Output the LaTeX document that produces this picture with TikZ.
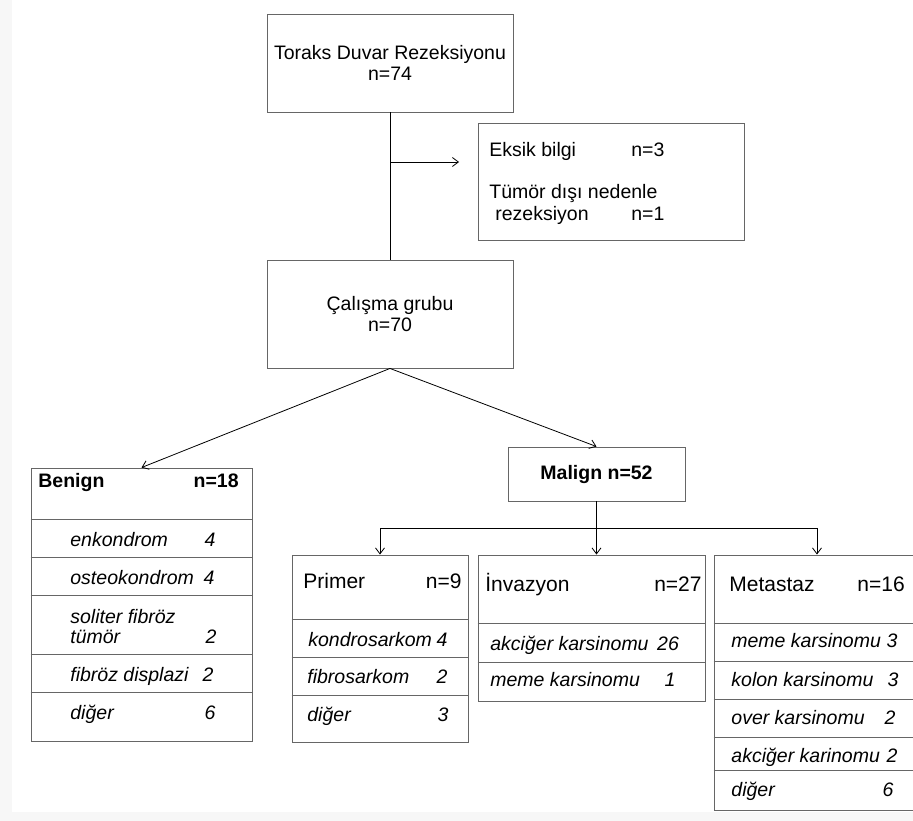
\documentclass[tikz,border=0pt]{standalone}
\usepackage{fontspec}
\setmainfont{Liberation Sans}
\usetikzlibrary{arrows.meta}
\newcommand{\boxfont}{\fontsize{19.5}{21.5}\selectfont}
\newcommand{\headfont}{\fontsize{21}{23}\selectfont}
\tikzset{every picture/.append style={x=1pt, y=-1pt, line width=0.8pt,
    >={Straight Barb[length=6pt,width=9pt]}}}
\tikzset{
    every node/.append style={font=\boxfont},
    box/.style={rectangle, draw=black!60, line width=0.9pt, inner sep=0pt, align=center},
    rowline/.style={draw=black!60, line width=0.9pt},
    txt/.style={anchor=base west, inner sep=0pt},
    head/.style={txt, font=\headfont},
    itm/.style={txt, font=\boxfont\itshape},
    num/.style={anchor=base, inner sep=0pt, font=\boxfont\itshape}
}

\begin{document}
\begin{tikzpicture}
  \useasboundingbox (0,0) rectangle (913,821);
  \clip (0,0) rectangle (913,821);
  \fill[black!3] (0,0) rectangle (913,821);
  \fill[white] (12,0) rectangle (913,812);

  \node (toraks) [box, minimum width=246, minimum height=98] at (390,63) {Toraks Duvar Rezeksiyonu\\n=74};
  \node (eksik) [box, minimum width=266, minimum height=117] at (611,181.5) {};
  \node (eksik1) [txt] at (489,157) {Eksik bilgi};
  \node (eksik1n) [txt] at (631,157) {n=3};
  \node (eksik2) [txt] at (489,199) {Tümör dışı nedenle};
  \node (eksik3) [txt] at (495,221) {rezeksiyon};
  \node (eksik3n) [txt] at (631,221) {n=1};
  \node (calisma) [box, minimum width=246, minimum height=108] at (390,314) {Çalışma grubu\\n=70};
  \node (malign) [box, font=\boxfont\bfseries, minimum width=177, minimum height=54] at (596.5,474) {Malign n=52};

  % benign table
  \node (benign) [box, minimum width=221, minimum height=273] at (141.5,604.5) {};
  \node (benignhd) [txt, font=\boxfont\bfseries] at (38,487) {Benign};
  \node (benignn) [txt, anchor=base east, font=\boxfont\bfseries] at (239,487) {n=18};
  \foreach \y in {519,557,595,654,692}
    \draw[rowline] (benign.west |- 0,\y) -- (benign.east |- 0,\y);
  \foreach \y/\t/\xn/\n [count=\i] in {546/enkondrom/210/4, 584/osteokondrom/209/4,
      681/fibröz displazi/208/2, 719/diğer/210/6} {
    \node (ben\i) [itm] at (70,\y) {\t};
    \node (bennum\i) [num] at (\xn,\y) {\n};
  }
  \node (bensol) [itm] at (70,623) {soliter fibröz};
  \node (bentum) [itm] at (70,643) {tümör};
  \node (bentumn) [num] at (211,643) {2};

  % primer table
  \node (primer) [box, minimum width=176, minimum height=187] at (380,648.5) {};
  \node (primerhd) [head] at (303,588) {Primer};
  \node (primern) [head, anchor=base east] at (462,588) {n=9};
  \foreach \y in {619,657,695}
    \draw[rowline] (primer.west |- 0,\y) -- (primer.east |- 0,\y);
  \foreach \y/\xt/\t/\xn/\n [count=\i] in {646/308/kondrosarkom/442/4,
      683/307/fibrosarkom/442/2, 721/307/diğer/443/3} {
    \node (pri\i) [itm] at (\xt,\y) {\t};
    \node (prinum\i) [num] at (\xn,\y) {\n};
  }

  % invazyon table
  \node (invazyon) [box, minimum width=227, minimum height=146] at (591.5,628) {};
  \node (invazyonhd) [head] at (485,591) {İnvazyon};
  \node (invazyonn) [head, anchor=base east] at (702,591) {n=27};
  \foreach \y in {623,662}
    \draw[rowline] (invazyon.west |- 0,\y) -- (invazyon.east |- 0,\y);
  \foreach \y/\t/\xn/\n [count=\i] in {650/akciğer karsinomu/668/26,
      686/meme karsinomu/670/1} {
    \node (inv\i) [itm] at (490,\y) {\t};
    \node (invnum\i) [num] at (\xn,\y) {\n};
  }

  % metastaz table
  \node (metastaz) [box, minimum width=206, minimum height=255] at (817,682.5) {};
  \node (metastazhd) [head] at (729,591) {Metastaz};
  \node (metastazn) [head] at (857,591) {n=16};
  \foreach \y in {623,661,699,737,770}
    \draw[rowline] (metastaz.west |- 0,\y) -- (metastaz.east |- 0,\y);
  \foreach \y/\t/\xn/\n [count=\i] in {647/meme karsinomu/892/3,
      686/kolon karsinomu/893/3, 724/over karsinomu/890/2,
      762/akciğer karinomu/892/2, 796/diğer/888/6} {
    \node (met\i) [itm] at (731,\y) {\t};
    \node (metnum\i) [num] at (\xn,\y) {\n};
  }

  \coordinate (split) at (toraks.south |- 0,162);
  \coordinate (eksikend) at (459,162);
  \coordinate (bus) at (malign.south |- 0,528);

  \draw (toraks) -- (calisma);
  \draw[->] (split) -- (eksikend);
  \draw[->] (calisma.south) -- (benign.north);
  \draw[->] (calisma.south) -- (malign.north);
  \draw[->] (malign.south) -- (malign.south |- invazyon.north);
  \draw (primer.north |- bus) -- (metastaz.north |- bus);
  \draw[->] (primer.north |- bus) -- (primer.north);
  \draw[->] (metastaz.north |- bus) -- (metastaz.north);
\end{tikzpicture}
\end{document}
